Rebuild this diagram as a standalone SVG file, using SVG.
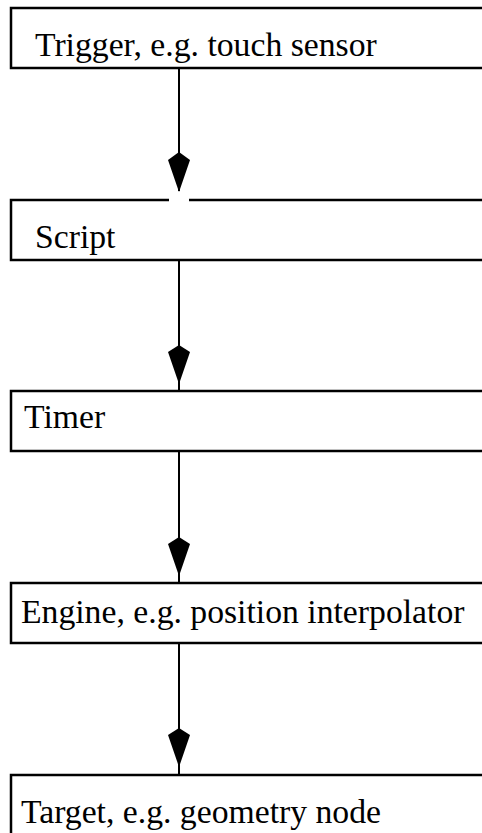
<svg xmlns="http://www.w3.org/2000/svg" width="482" height="833" viewBox="0 0 482 833">
<style>
.box{fill:#fff;stroke:#000;stroke-width:2.5}
.lbl{font-family:"Liberation Serif","Times New Roman",serif;font-size:33.7px;fill:#000}
.con{stroke:#000;stroke-width:2;fill:none}
.head{fill:#000;stroke:none}
</style>
<rect width="482" height="833" fill="#fff"/>
<g id="node-trigger">
<rect class="box" x="11" y="8" width="480" height="60"/>
<text class="lbl" x="35" y="56">Trigger, e.g. touch sensor</text>
</g>
<g id="node-script">
<rect class="box" x="11" y="200" width="480" height="60"/>
<line x1="169" y1="200" x2="189" y2="200" stroke="#fff" stroke-width="4"/>
<text class="lbl" x="35" y="248">Script</text>
</g>
<g id="node-timer">
<rect class="box" x="11" y="391" width="480" height="60"/>
<text class="lbl" x="24" y="428">Timer</text>
</g>
<g id="node-engine">
<rect class="box" x="11" y="583" width="480" height="60"/>
<text class="lbl" x="21" y="623">Engine, e.g. position interpolator</text>
</g>
<g id="node-target">
<rect class="box" x="11" y="775" width="480" height="70"/>
<text class="lbl" x="21" y="823">Target, e.g. geometry node</text>
</g>
<g id="connectors">
<line class="con" x1="179" y1="68" x2="179" y2="191"/>
<polygon class="head" points="179,152 190,160 179,192 168,160"/>
<line class="con" x1="179" y1="260" x2="179" y2="391"/>
<polygon class="head" points="179,345 190,352 179,384 168,352"/>
<line class="con" x1="179" y1="451" x2="179" y2="583"/>
<polygon class="head" points="179,537 190,544 179,576 168,544"/>
<line class="con" x1="179" y1="643" x2="179" y2="775"/>
<polygon class="head" points="179,728 190,735 179,767 168,735"/>
</g>
</svg>
